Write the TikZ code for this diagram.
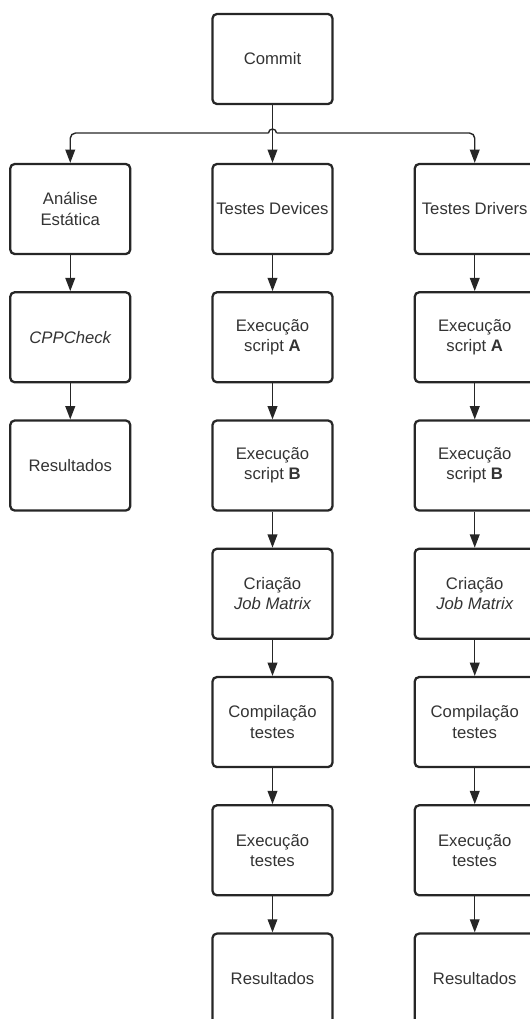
\documentclass[tikz,border=0pt]{standalone}
\usepackage{fontspec}
\setmainfont{Liberation Sans}
\usetikzlibrary{positioning,arrows.meta}

\begin{document}
\begin{tikzpicture}[x=0.02cm, y=-0.02cm,
  box/.style={draw=black!85, line width=1.3pt, rounded corners=2.5pt,
    minimum width=2.4cm, minimum height=1.8cm, inner sep=1pt, align=center,
    text=black!80, font=\fontsize{9.5}{11.5}\selectfont},
  flow/.style={draw=black!85, line width=0.8pt,
    -{Triangle[length=7.5pt, width=5.5pt]}},
  node distance=0.72cm and 1.60cm]
  \useasboundingbox (0,0) rectangle (530,1019);

  % top and the three branches
  \node[box] (commit) at (272.5,59) {Commit};
  \node[box] (dev) at (272.5,209) {Testes Devices};
  \node[box, left=of dev] (est) {Análise\\Estática};
  \node[box, right=of dev] (drv) {Testes Drivers};
  \coordinate (split) at (272.5,133);

  \draw[flow] (commit) -- (dev);
  \draw[flow, rounded corners=3pt] ([xshift=-0.08cm]split) -| (est);
  \draw[flow, rounded corners=3pt] ([xshift=0.08cm]split) -| (drv);
  \draw[draw=black!85, line width=0.8pt] ([xshift=-0.08cm]split) arc (180:0:0.08cm);

  % static analysis
  \node[box, below=of est] (cpp) {\itshape CPPCheck};
  \node[box, below=of cpp] (estres) {Resultados};
  \draw[flow] (est) -- (cpp);
  \draw[flow] (cpp) -- (estres);

  % test columns
  \foreach \col in {dev,drv} {
    \node[box, below=of \col] (\col a) {Execução\\script \textbf{A}};
    \node[box, below=of \col a] (\col b) {Execução\\script \textbf{B}};
    \node[box, below=of \col b] (\col job) {Criação\\\itshape Job Matrix};
    \node[box, below=of \col job] (\col comp) {Compilação\\testes};
    \node[box, below=of \col comp] (\col exec) {Execução\\testes};
    \node[box, below=of \col exec] (\col res) {Resultados};
    \draw[flow] (\col) -- (\col a);
    \draw[flow] (\col a) -- (\col b);
    \draw[flow] (\col b) -- (\col job);
    \draw[flow] (\col job) -- (\col comp);
    \draw[flow] (\col comp) -- (\col exec);
    \draw[flow] (\col exec) -- (\col res);
  }
\end{tikzpicture}
\end{document}
